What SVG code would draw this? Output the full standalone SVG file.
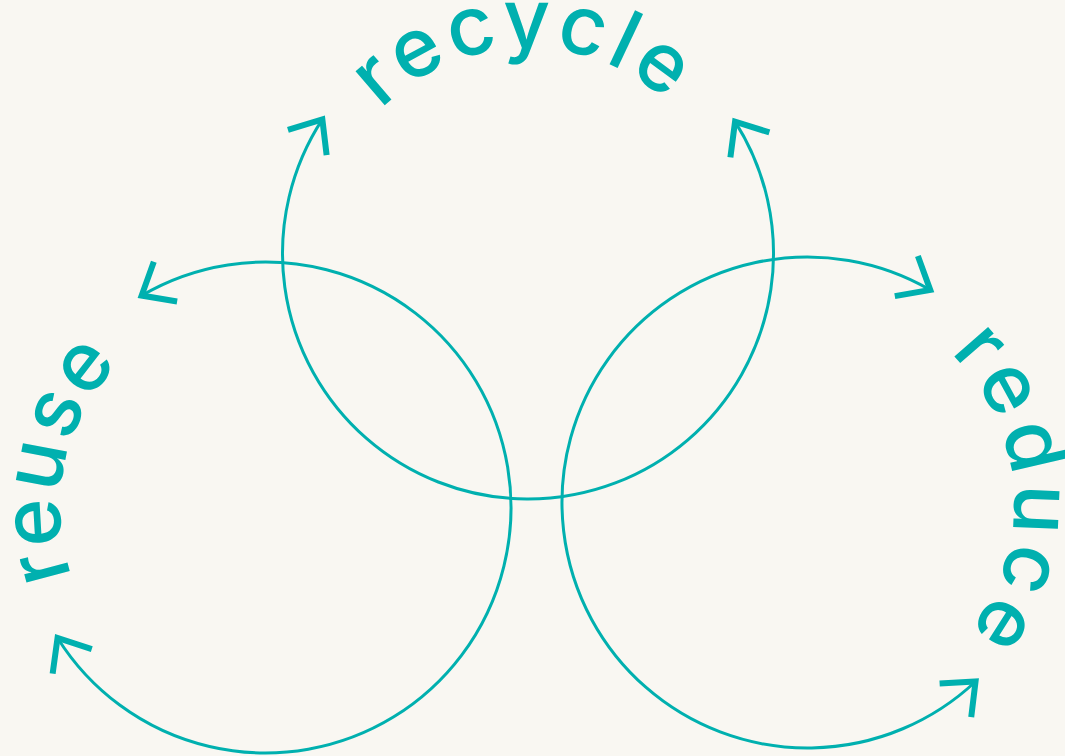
<svg xmlns="http://www.w3.org/2000/svg" width="1065" height="756" viewBox="0 0 1065 756">
  <style>
    .arc { fill: none; stroke: #00B0AF; stroke-width: 3; marker-start: url(#arr); marker-end: url(#arr); }
    .lbl { font-family: Inter, "Liberation Sans", sans-serif; font-size: 82px; font-weight: 500; fill: #00B0AF; }
  </style>
  <defs>
    <marker id="arr" markerUnits="userSpaceOnUse" orient="auto-start-reverse" viewBox="-40 -40 50 80" markerWidth="50" markerHeight="80" refX="0" refY="0" overflow="visible">
      <path d="M-27.6,-23.1 L0,0 L-27.6,23.1" fill="none" stroke="#00B0AF" stroke-width="6" stroke-linejoin="miter" stroke-miterlimit="10"/>
    </marker>
    <path id="p-recycle" d="M322.03,257.1 A206,206 0 0 1 733.97,249.9"/>
    <path id="p-reuse" d="M219.64,709.35 A207,207 0 0 1 311.36,305.65"/>
    <path id="p-reduce" d="M796.25,294.81 A208,208 0 0 1 818.75,710.19"/>
  </defs>
  <rect width="1065" height="756" fill="#F9F7F2"/>
  <g id="connectors">
    <path class="arc" d="M322.35,119.43 A245.5,245.5 0 1 0 735.05,121.59"/>
    <path class="arc" d="M141.64,295.54 A245.5,245.5 0 1 1 57.54,637.96"/>
    <path class="arc" d="M930.25,289.9 A245.5,245.5 0 1 0 975.54,681.47"/>
  </g>
  <g id="recycle">
    <text class="lbl" letter-spacing="5"><textPath href="#p-recycle" startOffset="50%" text-anchor="middle">recycle</textPath></text>
  </g>
  <g id="reuse">
    <text class="lbl" letter-spacing="2.5"><textPath href="#p-reuse" startOffset="50%" text-anchor="middle">reuse</textPath></text>
  </g>
  <g id="reduce">
    <text class="lbl" letter-spacing="6.5"><textPath href="#p-reduce" startOffset="50%" text-anchor="middle">reduce</textPath></text>
  </g>
</svg>
